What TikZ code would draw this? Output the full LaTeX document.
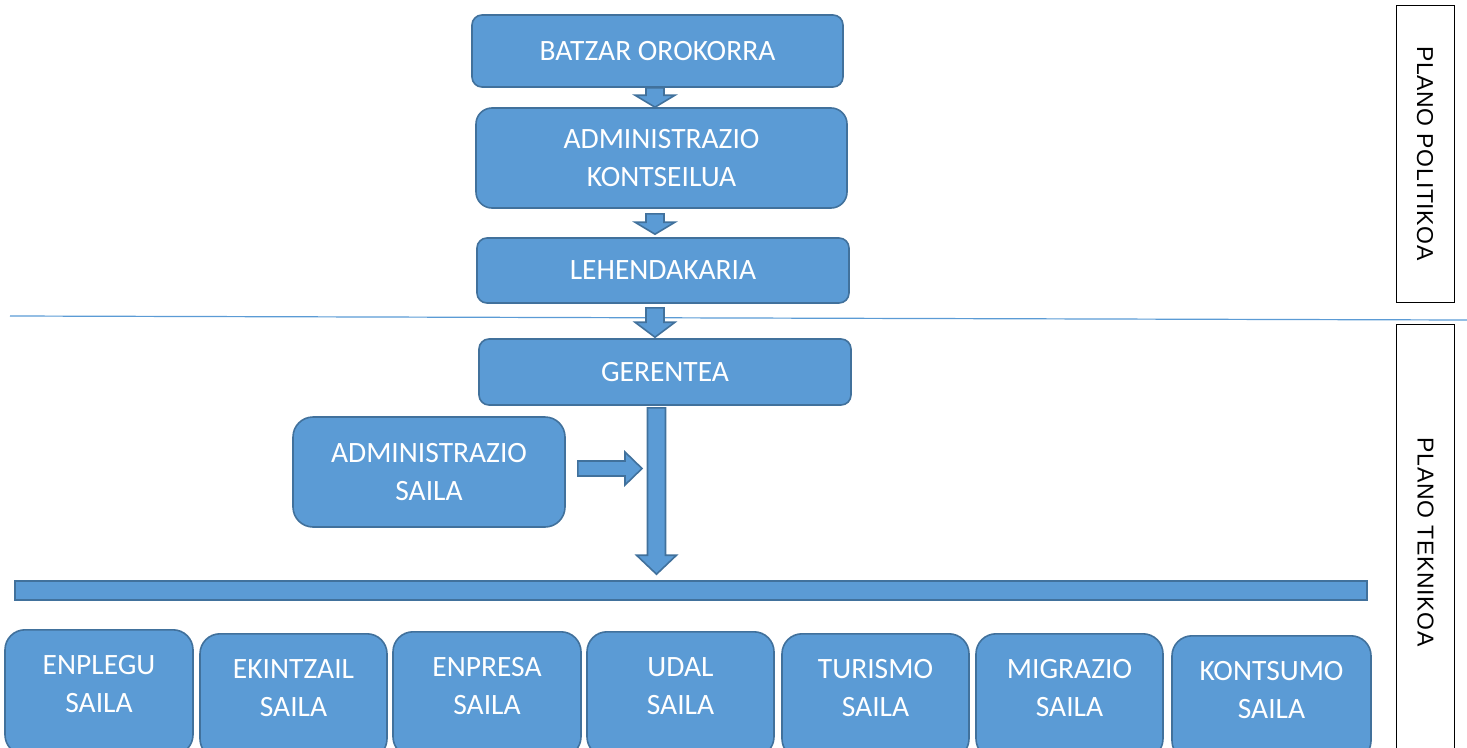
\documentclass[tikz,border=0pt]{standalone}
\usepackage{fontspec}
\setmainfont{Carlito}
\newfontfamily\planofont[LetterSpace=3]{Liberation Sans}
\usetikzlibrary{calc,positioning}
\definecolor{boxblue}{HTML}{5B9BD5}
\definecolor{boxedge}{HTML}{41719C}

\tikzset{
  orgbox/.style={draw=boxedge, fill=boxblue, line width=1.6pt, rounded corners=12pt,
    text=white, align=center, inner sep=0pt, font=\fontsize{29.5}{38}\selectfont},
  sailabox/.style={orgbox, rounded corners=20pt, minimum height=125pt, anchor=north},
  sailatext/.style={text=white, align=center, font=\fontsize{29.5}{38}\selectfont},
  planobox/.style={draw=black, line width=1pt, rotate=-90, minimum height=58pt,
    inner sep=0pt, font=\planofont\fontsize{23}{28}\selectfont},
  blockarrow/.style={draw=boxedge, fill=boxblue, line width=1.6pt, line join=miter},
}

% block arrow pointing down: [head length]{from}{to}
\newcommand{\blockdown}[3][13]{%
  \filldraw[blockarrow] let \p1=(#2), \p2=(#3) in
    (\x1-9pt,\y1) -- (\x1+9pt,\y1) -- (\x1+9pt,\y2+#1pt) -- (\x1+20pt,\y2+#1pt)
    -- (\x1,\y2) -- (\x1-20pt,\y2+#1pt) -- (\x1-9pt,\y2+#1pt) -- cycle;}

\begin{document}
\begin{tikzpicture}[x=1pt,y=-1pt]
    \useasboundingbox (0,0) rectangle (1467,747);

        % Plano politikoa
        \node[orgbox, minimum width=371pt, minimum height=72pt, rounded corners=10pt] (batzar) at (657.5,51) {BATZAR OROKORRA};
        \node[orgbox, minimum width=371pt, minimum height=100pt, rounded corners=16pt] (kontseilua) at (661.5,158) {ADMINISTRAZIO\\KONTSEILUA};
        \node[orgbox, minimum width=372pt, minimum height=65pt, rounded corners=10pt] (lehendakaria) at (663,270.5) {LEHENDAKARIA};

        % Line between the two planes
        \draw[boxblue, line width=1.2pt] (10,316) -- (1467,320);

        % Plano teknikoa
        \node[orgbox, minimum width=372pt, minimum height=66pt, rounded corners=10pt] (gerentea) at (665,372) {GERENTEA};
        \node[orgbox, minimum width=272pt, minimum height=110pt, rounded corners=20pt] (adminsaila) at (429,472) {ADMINISTRAZIO\\SAILA};
        \node[draw=boxedge, fill=boxblue, line width=1.6pt, minimum width=1352pt, minimum height=19pt, inner sep=0pt] (banda) at (691,590.5) {};

        % Sailak
        \foreach \name/\cx/\ty/\bw/\lbl in {enplegu/99/629/188/ENPLEGU, ekintzail/293.5/633/187/EKINTZAIL,
            enpresa/487/631/188/ENPRESA, udal/680.5/631/187/UDAL, turismo/875.5/633/187/TURISMO,
            migrazio/1069.5/633/187/MIGRAZIO, kontsumo/1271.5/635/199/KONTSUMO} {
            \node[sailabox, minimum width=\bw pt] (\name) at (\cx,\ty) {};
            \node[sailatext] at ($(\name.north)+(0,55)$) {\lbl\\SAILA};
        }

        % Arrows
        \coordinate (ax) at (655,0);
        \coordinate (bx) at (656.5,0);
        \blockdown[12]{ax |- batzar.south}{ax |- kontseilua.north};
        \blockdown[12]{$(ax |- kontseilua.south)+(0,5)$}{$(ax |- lehendakaria.north)+(0,-3)$};
        \blockdown[15]{$(ax |- lehendakaria.south)+(0,4)$}{$(ax |- gerentea.north)+(0,-1)$};
        \blockdown[19]{$(bx |- gerentea.south)+(0,2)$}{$(bx |- banda.north)+(0,-6)$};
        \filldraw[blockarrow] let \p1=($(adminsaila.east)+(12,-3.5)$), \p2=($(bx |- adminsaila.east)+(-14.5,-3.5)$) in
            (\x1,\y1+7.5pt) -- (\x2-17pt,\y1+7.5pt) -- (\x2-17pt,\y1+16.5pt) -- (\x2,\y1)
            -- (\x2-17pt,\y1-16.5pt) -- (\x2-17pt,\y1-7.5pt) -- (\x1,\y1-7.5pt) -- cycle;

        % Plano labels
        \node[planobox, minimum width=297pt] (politikoa) at (1425,153.5) {PLANO POLITIKOA};
        \node[planobox, minimum width=436pt] (teknikoa) at (1425.5,542) {PLANO TEKNIKOA};

\end{tikzpicture}
\end{document}
